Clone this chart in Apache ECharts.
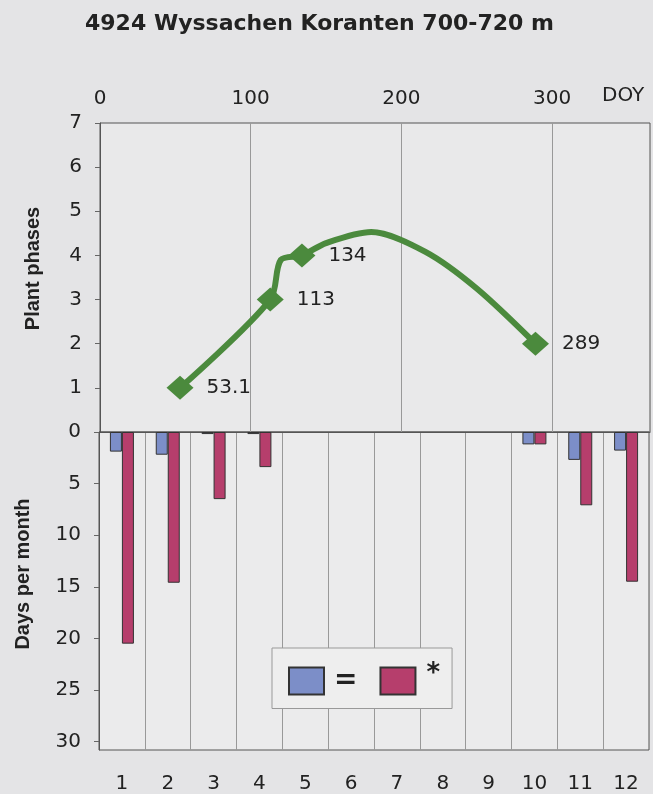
<!DOCTYPE html>
<html lang="en">
<head>
<meta charset="UTF-8">
<title>4924 Wyssachen Koranten</title>
<script src="https://cdn.jsdelivr.net/npm/echarts@6/dist/echarts.min.js"></script>
<style>
  html, body { margin: 0; padding: 0; background: #e4e4e6; }
  #chart { width: 653px; height: 794px; }
</style>
</head>
<body>
<div id="chart"></div>
<script>
// plant phases: DOY of each phase
var phaseDoy = [53.1, 113, 134, 289];
var phaseValue = [1, 3, 4, 2];
// the smoothed curve (DOY, phase)
var curveDoy = [53.1, 113, 120, 134, 150, 180, 216, 250, 289];
var curveValue = [1, 3, 3.9, 4, 4.28, 4.53, 4.08, 3.25, 2];

// days per month
var months = ['1', '2', '3', '4', '5', '6', '7', '8', '9', '10', '11', '12'];
var daysEqual = [1.9, 2.2, 0.2, 0.2, 0, 0, 0, 0, 0, 1.2, 2.7, 1.8];
var daysStar = [20.5, 14.6, 6.5, 3.4, 0, 0, 0, 0, 0, 1.2, 7.1, 14.5];

var font = 'DejaVu Sans';
var green = '#4b8a3d';

var chart = echarts.init(document.getElementById('chart'));

var curve = curveDoy.map(function (d, i) { return [d, curveValue[i]]; });
var phases = phaseDoy.map(function (d, i) { return [d, phaseValue[i]]; });
// no bar drawn for an empty month
function bars(arr) { return arr.map(function (v) { return v === 0 ? '-' : v; }); }

var option = {
    backgroundColor: '#e4e4e6',
    animation: false,
    title: {
        text: '4924 Wyssachen Koranten 700-720 m',
        left: 80,
        top: 8,
        textStyle: { fontFamily: font, fontWeight: 'bold', fontSize: 22, color: '#222' }
    },
    graphic: [
        {
            type: 'text', left: 602, top: 86,
            style: { text: 'DOY', fontFamily: font, fontSize: 20, fill: '#222' }
        }
    ],
    legend: {
        data: ['=', '*'],
        left: 272,
        top: 648,
        padding: [13, 12, 13, 16],
        itemWidth: 35,
        itemHeight: 27,
        itemGap: 22,
        backgroundColor: '#eeeeee',
        borderColor: '#999',
        borderWidth: 1,
        icon: 'rect',
        textStyle: {
            fontFamily: font, fontWeight: 'bold', fontSize: 26, color: '#222',
            rich: {
                eq: { fontFamily: font, fontWeight: 'bold', fontSize: 28, color: '#222', padding: [0, 0, 0, 5] },
                st: { fontFamily: font, fontWeight: 'bold', fontSize: 26, color: '#222', padding: [0, 0, 14, 6] }
            }
        },
        formatter: function (name) {
            return name === '*' ? '{st|*}' : '{eq|=}';
        }
    },
    grid: [
        { left: 100, right: 3, top: 123, height: 309, show: true, backgroundColor: '#e9e9ea', borderColor: '#555', borderWidth: 1 },
        { left: 99, right: 4, top: 432, height: 321, show: true, backgroundColor: '#ebebec', borderColor: '#555', borderWidth: 1 }
    ],
    xAxis: [
        {
            type: 'value', gridIndex: 0, position: 'top',
            min: 0, max: 365, interval: 100,
            axisLine: { show: true, lineStyle: { color: '#555' } },
            axisTick: { show: false },
            axisLabel: { fontFamily: font, fontSize: 20, color: '#222', margin: 14, showMaxLabel: false },
            splitLine: { show: true, lineStyle: { color: '#999', width: 1 } }
        },
        {
            type: 'category', gridIndex: 1, position: 'bottom',
            data: months,
            axisLine: { show: true, lineStyle: { color: '#555' } },
            axisTick: { show: false },
            axisLabel: { fontFamily: font, fontSize: 20, color: '#222', margin: 24 },
            splitLine: { show: true, lineStyle: { color: '#999', width: 1 } }
        }
    ],
    yAxis: [
        {
            type: 'value', gridIndex: 0,
            min: 0, max: 7, interval: 1,
            name: 'Plant phases', nameLocation: 'middle', nameGap: 57, nameRotate: 90,
            nameTextStyle: { fontFamily: 'Liberation Sans', fontWeight: 'bold', fontSize: 20, color: '#222', padding: [0, 0, 0, 18] },
            axisLine: { show: true, lineStyle: { color: '#555' } },
            axisTick: { show: true, inside: false, length: 5, lineStyle: { color: '#666' } },
            axisLabel: { fontFamily: font, fontSize: 20, color: '#222', margin: 18, showMinLabel: false },
            splitLine: { show: false }
        },
        {
            type: 'value', gridIndex: 1, inverse: true,
            min: 0, max: 30.8, interval: 5,
            name: 'Days per month', nameLocation: 'middle', nameGap: 66, nameRotate: 90,
            nameTextStyle: { fontFamily: 'Liberation Sans', fontWeight: 'bold', fontSize: 20, color: '#222', padding: [0, 0, 0, 34] },
            axisLine: { show: true, lineStyle: { color: '#555' } },
            axisTick: { show: true, inside: false, length: 5, lineStyle: { color: '#666' } },
            axisLabel: { fontFamily: font, fontSize: 20, color: '#222', margin: 18, showMaxLabel: false },
            splitLine: { show: false }
        }
    ],
    series: [
        {
            name: 'curve', type: 'line', xAxisIndex: 0, yAxisIndex: 0,
            data: curve, smooth: 0.3, symbol: 'none',
            lineStyle: { color: green, width: 6 }
        },
        {
            name: 'phases', type: 'scatter', xAxisIndex: 0, yAxisIndex: 0,
            data: phases, symbol: 'diamond', symbolSize: [27, 24],
            itemStyle: { color: green, opacity: 1 },
            label: {
                show: true, position: 'right', distance: 13,
                fontFamily: font, fontSize: 20, color: '#222',
                formatter: function (p) { return p.value[0]; }
            },
            z: 3
        },
        {
            name: '=', type: 'bar', xAxisIndex: 1, yAxisIndex: 1,
            data: bars(daysEqual), barWidth: 12, barGap: 0,
            itemStyle: { color: '#7c8ec8', borderColor: '#333', borderWidth: 1 }
        },
        {
            name: '*', type: 'bar', xAxisIndex: 1, yAxisIndex: 1,
            data: bars(daysStar), barWidth: 12, barGap: 0,
            itemStyle: { color: '#b63e6c', borderColor: '#333', borderWidth: 1 }
        }
    ]
};

chart.setOption(option);
</script>
</body>
</html>
